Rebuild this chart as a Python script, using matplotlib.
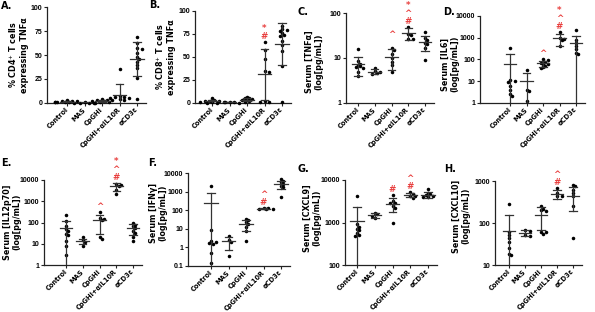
import matplotlib
matplotlib.use("Agg")
import matplotlib.pyplot as plt
import numpy as np
from matplotlib.ticker import NullLocator

plt.rcParams['font.family'] = ['DejaVu Sans']
W, H, DPI = 595, 312, 100
RED = '#e8403f'
EC = '#333333'
TICKFONT = ['Liberation Sans', 'DejaVu Sans']

groups = ["Control", "MAS", "CpGHi", "CpGHi+αIL10R", "αCD3ε"]

# ---- Panel A: % CD4+ T cells expressing TNFa
A_vals = [[3, 2.5, 2, 1.8, 1.5, 1.2, 1, 0.8, 0.5, 1.5],
          [0.5, 0.3, 0.6, 0.4],
          [4, 3.5, 3, 2.5, 2, 1.5, 1, 0.5, 2.8],
          [35, 7, 6, 5.5, 5, 4, 3, 6],
          [69, 63, 57, 56, 52, 48, 46, 43, 40, 36, 26, 4]]
A_mean = [1.5, 0.5, 2.2, 8.5, 46]
A_sd = [0.8, 0.2, 1.2, 11, 18]

# ---- Panel B: % CD8+ T cells expressing TNFa
B_vals = [[5, 3, 2.5, 2, 1.5, 1, 1, 0.5, 0.2, 2],
          [1.5, 1, 0.5, 1.2],
          [7, 5.5, 5, 4, 3.5, 3, 2, 1],
          [66, 58, 48, 35, 34, 2, 1, 1],
          [84, 80, 79, 78, 76, 74, 73, 67, 63, 56, 40, 1]]
B_mean = [2, 1, 3.8, 31, 64]
B_sd = [1.5, 0.4, 2, 28, 23]

# ---- Panel C: Serum TNFa
C_vals = [[16, 8.5, 7.5, 7, 6.5, 6.2, 6, 5, 4],
          [6, 5.2, 5, 4.6, 4.5],
          [17, 15, 12, 10, 8, 7, 5],
          [48, 35, 33, 27, 26],
          [37, 28, 25, 22, 20, 17, 9]]
C_mean = [7.3, 5, 10.5, 36, 23]
C_sd = [3.4, 0.6, 5, 11, 8.5]

# ---- Panel D: Serum IL6
D_vals = [[350, 11, 10, 9, 6, 4, 2.5, 2],
          [33, 4, 3.5, 1.3],
          [100, 90, 80, 72, 65, 60, 52, 45, 40],
          [1800, 1000, 900, 800, 400],
          [2200, 800, 550, 400, 300, 200, 170]]
D_mean = [60, 10, 67, 980, 600]
D_sd = [120, 15, 20, 550, 650]

# ---- Panel E: Serum IL12p70
E_vals = [[220, 120, 70, 50, 40, 30, 25, 13, 8, 3],
          [20, 15, 12, 8],
          [320, 160, 150, 130, 20, 17],
          [6300, 6000, 5000, 3500, 2200],
          [100, 80, 70, 55, 40, 32, 20, 14]]
E_mean = [58, 13.5, 130, 5000, 55]
E_sd = [65, 4, 100, 2000, 30]

# ---- Panel F: Serum IFNg
F_vals = [[2000, 9, 2.2, 2, 1.8, 1.6, 0.5, 0.15],
          [4, 2.4, 2, 0.35],
          [33, 28, 22, 18, 13, 8, 2.3],
          [130, 125, 118, 112, 110],
          [4500, 3800, 3200, 2600, 2100, 1700, 500]]
F_mean = [230, 2.2, 18, 120, 2600]
F_sd = [620, 1.5, 10, 10, 1200]

# ---- Panel G: Serum CXCL9
G_vals = [[4300, 900, 800, 700, 650, 560, 500, 480],
          [1650, 1550, 1450, 1250],
          [4400, 3200, 2900, 2800, 2450, 2250, 1000],
          [5200, 4800, 4300, 4200, 3800],
          [6000, 5000, 4700, 4400, 4200, 4000, 3900]]
G_mean = [1100, 1480, 2750, 4500, 4500]
G_sd = [1200, 170, 1000, 550, 700]

# ---- Panel H: Serum CXCL10
H_vals = [[290, 60, 52, 45, 35, 25, 18, 17],
          [68, 66, 52, 50],
          [250, 220, 200, 190, 62, 60, 56],
          [680, 520, 450, 430],
          [800, 750, 600, 520, 450, 260, 44]]
H_mean = [66, 59, 155, 490, 450]
H_sd = [90, 9, 85, 120, 260]

fig = plt.figure(figsize=(W / DPI, H / DPI), dpi=DPI)


def fmt(t):
    if t < 1:
        return str(t)
    return str(int(t))


def draw_panel(box, vals, means, sds, log, ylim, yticks, ylabel, letter,
               marks, lab_xy, let_xy):
    L, c0, c4, R, T, B = box
    ax = fig.add_axes([L / W, 1 - B / H, (R - L) / W, (B - T) / H])
    s = (c4 - c0) / 4.0
    ax.set_xlim(-(c0 - L) / s, 4 + (R - c4) / s)
    if log:
        ax.set_yscale('log')
    ax.set_ylim(*ylim)
    hpx = B - T

    def ypx(v):
        if log:
            v = max(v, ylim[0])
            return (np.log10(v) - np.log10(ylim[0])) / (np.log10(ylim[1]) - np.log10(ylim[0])) * hpx
        return (v - ylim[0]) / (ylim[1] - ylim[0]) * hpx

    for i, g in enumerate(vals):
        placed = []
        xs, ys = [], []
        for v in sorted(g, reverse=True):
            yp = ypx(v)
            xp = 0
            for k in [0, 1, -1, 2, -2, 3, -3, 4, -4, 5, -5]:
                xp = k * 2.4
                if all((xp - a) ** 2 + (yp - b) ** 2 >= 2.6 ** 2 for a, b in placed):
                    break
            placed.append((xp, yp))
            xs.append(i + xp / s)
            ys.append(v)
        ax.scatter(xs, ys, s=6.5, c='black', linewidths=0, zorder=3, clip_on=False)
        m, sd = means[i], sds[i]
        lo, hi = m - sd, m + sd
        mw, cw = 0.38, 0.22
        ax.plot([i - mw, i + mw], [m, m], color=EC, lw=0.9, zorder=4)
        ax.plot([i, i], [max(lo, ylim[0]), hi], color=EC, lw=0.9, zorder=4)
        ax.plot([i - cw, i + cw], [hi, hi], color=EC, lw=0.9, zorder=4)
        if lo > ylim[0]:
            ax.plot([i - cw, i + cw], [lo, lo], color=EC, lw=0.9, zorder=4)

    for gi, syms in marks.items():
        top = max(max(vals[gi]), means[gi] + sds[gi])
        for k, ch in enumerate(syms):
            if ch == ' ':
                continue
            ax.annotate(ch, xy=(gi, top), xytext=(0, (3 + 8 * k) * 0.72),
                        textcoords='offset points', ha='center', va='baseline',
                        color=RED, fontsize=6.3, fontweight='bold',
                        annotation_clip=False)

    for sp in ['top', 'right']:
        ax.spines[sp].set_visible(False)
    for sp in ['left', 'bottom']:
        ax.spines[sp].set_linewidth(0.9)
        ax.spines[sp].set_color('#222222')
    ax.set_xticks(range(5))
    ax.set_xticklabels(groups, rotation=45, ha='right', va='center',
                       rotation_mode='anchor', fontsize=4.8, fontweight='bold')
    ax.tick_params(axis='x', length=2.5, width=0.8, pad=1.5, color='#222222')
    ax.set_yticks(yticks)
    ax.set_yticklabels([fmt(t) for t in yticks], fontsize=5, fontweight='bold',
                       family=TICKFONT)
    ax.yaxis.set_minor_locator(NullLocator())
    ax.tick_params(axis='y', which='major', length=2.5, width=0.8, pad=1, color='#222222')
    ax.patch.set_alpha(0)

    fig.text(lab_xy[0] / W, 1 - lab_xy[1] / H, ylabel, rotation=90,
             ha='center', va='center', multialignment='center',
             fontsize=5.8, fontweight='bold', linespacing=1.1)
    fig.text(let_xy[0] / W, 1 - let_xy[1] / H, letter, ha='left', va='center',
             fontsize=7, fontweight='bold')
    return ax


lin_ticks = [0, 25, 50, 75, 100]

draw_panel((47, 67, 137, 146, 7, 103), A_vals, A_mean, A_sd, False, (0, 100), lin_ticks,
           "% CD4$^{+}$ T cells\nexpressing TNFα", "A.", {}, (18, 55), (1, 6))
draw_panel((195, 212, 282, 291, 11, 103), B_vals, B_mean, B_sd, False, (0, 100), lin_ticks,
           "% CD8$^{+}$ T cells\nexpressing TNFα", "B.", {3: "#*"}, (165, 57), (149, 5))
draw_panel((346, 358, 425, 434, 13, 103), C_vals, C_mean, C_sd, True, (1, 100), [1, 10, 100],
           "Serum [TNFα]\n(log[pg/mL])", "C.", {2: " ^", 3: "#^*"}, (314, 62), (297, 12))
draw_panel((480, 510, 576, 585, 16, 103), D_vals, D_mean, D_sd, True, (1, 10000),
           [1, 10, 100, 1000, 10000],
           "Serum [IL6]\n(log[pg/mL])", "D.", {2: "^", 3: "#^*"}, (450, 64), (443, 12))
draw_panel((44, 66, 133, 142, 180, 265), E_vals, E_mean, E_sd, True, (1, 10000),
           [1, 10, 100, 1000, 10000],
           "Serum [IL12p70]\n(log[pg/mL])", "E.", {2: "^", 3: "#^*"}, (12, 222), (1, 163))
draw_panel((188, 211, 281, 290, 173, 266), F_vals, F_mean, F_sd, True, (0.1, 10000),
           [0.1, 1, 10, 100, 1000, 10000],
           "Serum [IFNγ]\n(log[pg/mL])", "F.", {3: "#^"}, (158, 213), (148, 163))
draw_panel((345, 357, 428, 437, 180, 265), G_vals, G_mean, G_sd, True, (100, 10000),
           [100, 1000, 10000],
           "Serum [CXCL9]\n(log[pg/mL])", "G.", {2: "#", 3: "#^"}, (312, 218), (297, 169))
draw_panel((495, 509, 573, 582, 181, 265), H_vals, H_mean, H_sd, True, (10, 1000),
           [10, 100, 1000],
           "Serum [CXCL10]\n(log[pg/mL])", "H.", {3: "#^"}, (461, 216), (444, 169))

fig.savefig("out.png", dpi=DPI)
